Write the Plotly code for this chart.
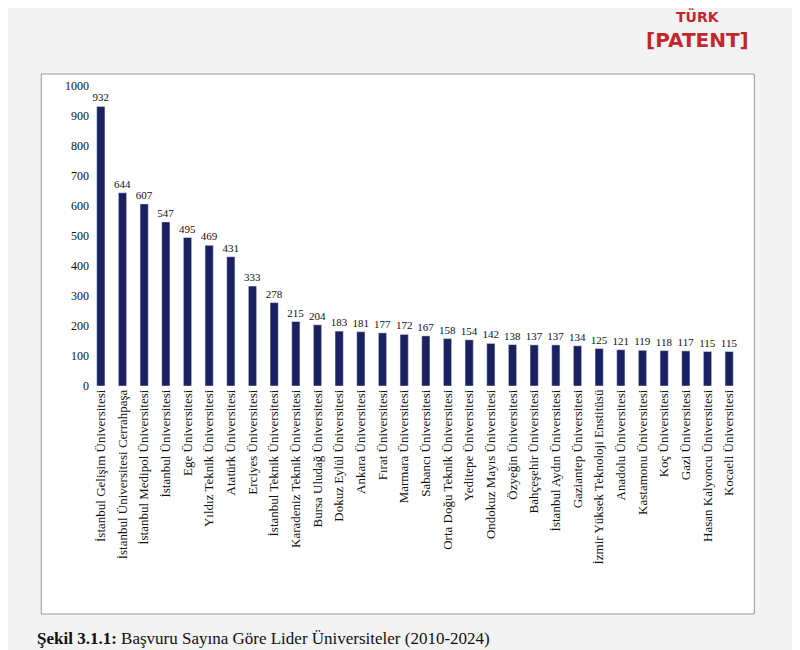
import plotly.graph_objects as go

universities = [
    "İstanbul Gelişim Üniversitesi", "İstanbul Üniversitesi Cerrahpaşa", "İstanbul Medipol Üniversitesi",
    "İstanbul Üniversitesi", "Ege Üniversitesi", "Yıldız Teknik Üniversitesi", "Atatürk Üniversitesi",
    "Erciyes Üniversitesi", "İstanbul Teknik Üniversitesi", "Karadeniz Teknik Üniversitesi",
    "Bursa Uludağ Üniversitesi", "Dokuz Eylül Üniversitesi", "Ankara Üniversitesi", "Fırat Üniversitesi",
    "Marmara Üniversitesi", "Sabancı Üniversitesi", "Orta Doğu Teknik Üniversitesi", "Yeditepe Üniversitesi",
    "Ondokuz Mayıs Üniversitesi", "Özyeğin Üniversitesi", "Bahçeşehir Üniversitesi",
    "İstanbul Aydın Üniversitesi", "Gaziantep Üniversitesi", "İzmir Yüksek Teknoloji Enstitüsü",
    "Anadolu Üniversitesi", "Kastamonu Üniversitesi", "Koç Üniversitesi", "Gazi Üniversitesi",
    "Hasan Kalyoncu Üniversitesi", "Kocaeli Üniversitesi",
]
applications = [932, 644, 607, 547, 495, 469, 431, 333, 278, 215, 204, 183, 181, 177, 172,
                167, 158, 154, 142, 138, 137, 137, 134, 125, 121, 119, 118, 117, 115, 115]

serif = "Liberation Serif, Times New Roman, serif"

fig = go.Figure(go.Bar(
    x=universities, y=applications,
    marker_color="#1b2160", width=0.38,
    text=applications, textposition="outside", constraintext="none",
    textfont=dict(size=11, color="#111"), cliponaxis=False,
))

fig.update_layout(
    width=800, height=650,
    margin=dict(l=82, r=68, t=78, b=272),
    paper_bgcolor="#f3f3f3", plot_bgcolor="white",
    font=dict(family=serif, color="#111"),
    showlegend=False,
    bargap=0.6,
    shapes=[dict(type="rect", xref="paper", yref="paper", x0=-0.075, x1=1.022, y0=-0.76, y1=1.04,
                 line=dict(color="#999", width=1), fillcolor="white", layer="below")],
    annotations=[
        dict(text="<b>Şekil 3.1.1:</b> Başvuru Sayına Göre Lider Üniversiteler (2010-2024)",
             xref="paper", yref="paper", x=-0.085, y=-0.84, xanchor="left", yanchor="middle",
             showarrow=False, font=dict(size=17, family=serif, color="#111")),
        dict(text="<b>TÜRK</b>", xref="paper", yref="paper", x=0.935, y=1.268, xanchor="center",
             showarrow=False, font=dict(size=14, family="DejaVu Sans", color="#c0282d")),
        dict(text="<b>[PATENT]</b>", xref="paper", yref="paper", x=0.935, y=1.2, xanchor="center",
             showarrow=False, font=dict(size=20, family="DejaVu Sans", color="#c0282d")),
    ],
)
fig.update_yaxes(range=[0, 1000], dtick=100, showgrid=False, showline=False,
                 tickfont=dict(size=12), ticks="")
fig.update_xaxes(tickangle=-90, tickfont=dict(size=13), showline=False, ticks="")

fig.write_html("out.html")
